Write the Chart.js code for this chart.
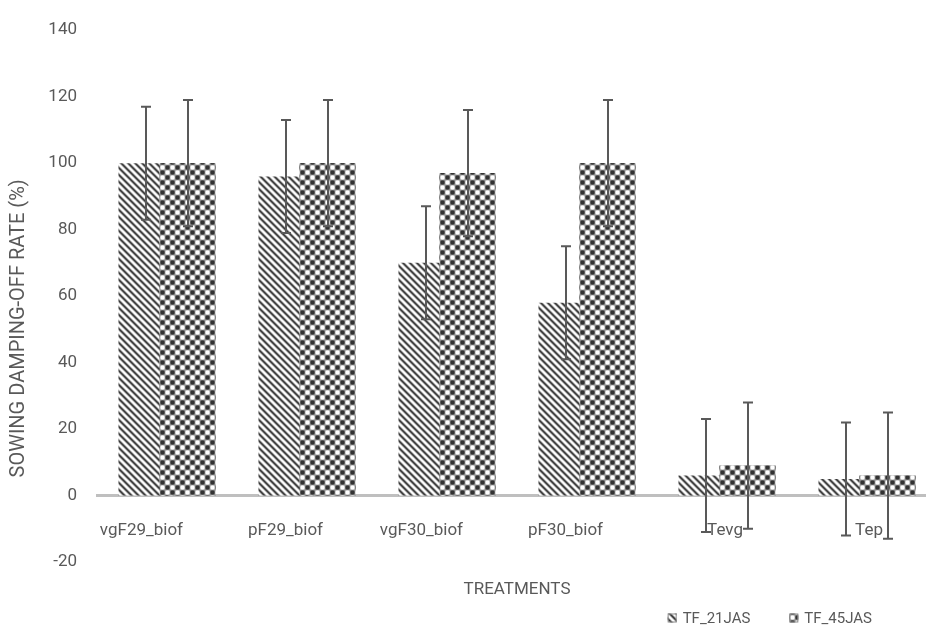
<!DOCTYPE html>
<html><head><meta charset="utf-8">
<script src="https://cdn.jsdelivr.net/npm/chart.js@4.4.1/dist/chart.umd.min.js"></script>
<style>
html,body{margin:0;padding:0;background:#fff;overflow:hidden;width:926px;height:629px;}
#wrap{position:absolute;left:0;top:0;width:950px;height:629px;}
</style></head><body>
<div id="wrap"><canvas id="c"></canvas></div>
<script>
// ---- data ----
const categories = ['vgF29_biof', 'pF29_biof', 'vgF30_biof', 'pF30_biof', 'Tevg', 'Tep'];
const seriesNames = ['TF_21JAS', 'TF_45JAS'];
const tf21 = [100, 96, 70, 58, 6, 5];
const tf45 = [100, 100, 97, 100, 9, 6];
const tf21Err = [17, 17, 17, 17, 17, 17];
const tf45Err = [19, 19, 19, 19, 19, 19];
const yMin = -20, yMax = 140, yStep = 20;
const xTitle = 'TREATMENTS';
const yTitle = 'SOWING DAMPING-OFF RATE (%)';

const FONT = 'Roboto';
const TXT = '#595959';

function makeHatch() {
  const s = 7, c = document.createElement('canvas'); c.width = c.height = s;
  const g = c.getContext('2d'); const img = g.createImageData(s, s);
  for (let y = 0; y < s; y++) for (let x = 0; x < s; x++) {
    const t = ((x - y) % s + s) % s;
    let v = 0.5 + 0.5 * Math.cos(2 * Math.PI * t / s);
    v = Math.pow(v, 1.4);
    const val = Math.round(255 - v * (255 - 55));
    const k = (y * s + x) * 4;
    img.data[k] = img.data[k + 1] = img.data[k + 2] = val; img.data[k + 3] = 255;
  }
  g.putImageData(img, 0, 0);
  return g.createPattern(c, 'repeat');
}
function makeChecker() {
  const s = 10, cell = 5, c = document.createElement('canvas'); c.width = c.height = s;
  const g = c.getContext('2d'); const img = g.createImageData(s, s);
  for (let y = 0; y < s; y++) for (let x = 0; x < s; x++) {
    const p = Math.sin(Math.PI * (x + 0.5) / cell) * Math.sin(Math.PI * (y + 0.5) / cell);
    const v = Math.min(1, Math.max(0, 0.5 + 1.0 * p));
    const val = Math.round(255 - v * (255 - 50));
    const k = (y * s + x) * 4;
    img.data[k] = img.data[k + 1] = img.data[k + 2] = val; img.data[k + 3] = 255;
  }
  g.putImageData(img, 0, 0);
  return g.createPattern(c, 'repeat');
}
const hatch = makeHatch();
const checker = makeChecker();

const errorBars = {
  id: 'errorBars',
  afterDatasetsDraw(chart) {
    const ctx = chart.ctx, area = chart.chartArea;
    // later series overlaps the earlier one
    ctx.save();
    ctx.beginPath(); ctx.rect(area.left, area.top, area.right - area.left, area.bottom - area.top); ctx.clip();
    chart.getDatasetMeta(1).controller.draw();
    ctx.restore();
    const ys = chart.scales.y;
    const errs = [tf21Err, tf45Err];
    ctx.save();
    ctx.strokeStyle = '#595959'; ctx.lineWidth = 2;
    errs.forEach((e, di) => {
      const meta = chart.getDatasetMeta(di);
      meta.data.forEach((bar, i) => {
        const v = chart.data.datasets[di].data[i];
        const x = Math.round(bar.x);
        const t = ys.getPixelForValue(v + e[i]), b = ys.getPixelForValue(v - e[i]);
        ctx.beginPath();
        ctx.moveTo(x, t); ctx.lineTo(x, b);
        ctx.moveTo(x - 5, t); ctx.lineTo(x + 5, t);
        ctx.moveTo(x - 5, b); ctx.lineTo(x + 5, b);
        ctx.stroke();
      });
    });
    ctx.restore();
  }
};

const customLegend = {
  id: 'customLegend',
  afterDraw(chart) {
    const ctx = chart.ctx;
    ctx.save();
    ctx.font = '15px ' + FONT;
    ctx.textBaseline = 'middle';
    const box = 9, gapText = 6, gapItem = 39, right = 872, cy = 618;
    const ds = chart.data.datasets;
    const widths = ds.map(d => box + gapText + ctx.measureText(d.label).width);
    let x = right - widths.reduce((a, b) => a + b, 0) - gapItem * (ds.length - 1);
    ds.forEach((d, i) => {
      ctx.fillStyle = d.backgroundColor;
      ctx.fillRect(x, cy - box / 2, box, box);
      ctx.strokeStyle = '#8c8c8c'; ctx.lineWidth = 1;
      ctx.strokeRect(x + 0.5, cy - box / 2 + 0.5, box - 1, box - 1);
      ctx.fillStyle = TXT;
      ctx.fillText(d.label, x + box + gapText, cy + 1);
      x += widths[i] + gapItem;
    });
    ctx.restore();
  }
};

new Chart(document.getElementById('c'), {
  type: 'bar',
  data: {
    labels: categories,
    datasets: [
      { label: seriesNames[0], data: tf21, backgroundColor: hatch, borderWidth: 0 },
      { label: seriesNames[1], data: tf45, backgroundColor: checker, borderWidth: 0 }
    ]
  },
  options: {
    responsive: true,
    maintainAspectRatio: false,
    animation: false,
    datasets: { bar: { categoryPercentage: 0.586, barPercentage: 1.366 } },
    layout: { padding: { top: 22, right: 13, bottom: 29, left: 0 } },
    plugins: { legend: { display: false }, tooltip: { enabled: false } },
    scales: {
      x: {
        type: 'category',
        position: { y: 0 },
        offset: true,
        grid: { display: false, drawTicks: false },
        border: { display: true, color: '#bfbfbf', width: 3 },
        ticks: { color: TXT, font: { family: FONT, size: 17 }, padding: 25, align: 'end', labelOffset: 16, maxRotation: 0, autoSkip: false },
        afterFit(s) { s.height = 0; }
      },
      x2: {
        type: 'category',
        axis: 'x',
        position: 'bottom',
        labels: categories,
        offset: true,
        grid: { display: false, drawTicks: false },
        border: { display: false },
        ticks: { display: false },
        title: { display: true, text: xTitle, color: TXT, font: { family: FONT, size: 17 }, padding: { top: 0, bottom: 0 } },
        afterFit(s) { s.height = 38; }
      },
      y: {
        min: yMin, max: yMax,
        ticks: { stepSize: yStep, color: TXT, font: { family: FONT, size: 17 }, padding: 20 },
        grid: { display: false, drawTicks: false },
        border: { display: false },
        title: { display: true, text: yTitle + '             ', color: TXT, font: { family: FONT, size: 20 }, padding: { top: 7, bottom: 0 } },
        afterFit(s) { s.width = 97; }
      }
    }
  },
  plugins: [errorBars, customLegend]
});
</script>
</body></html>
